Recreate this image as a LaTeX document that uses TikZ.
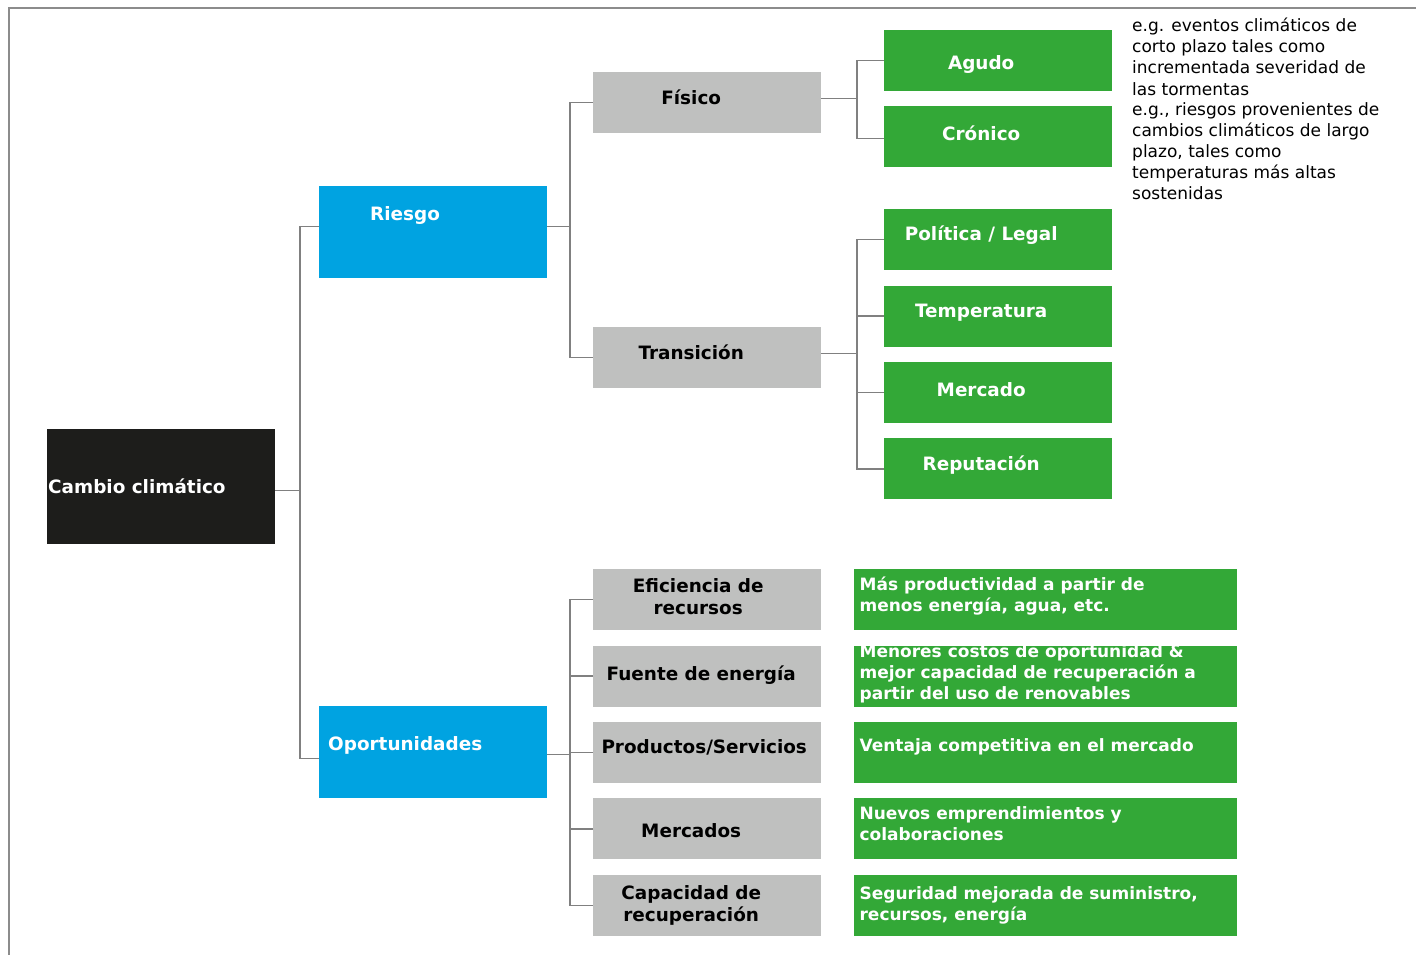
\documentclass[tikz,border=0pt]{standalone}
\usepackage{fontspec}
\setmainfont{DejaVu Sans}
\usetikzlibrary{positioning}
\definecolor{ccblue}{RGB}{0,163,225}
\definecolor{ccgreen}{RGB}{51,168,55}
\definecolor{ccgrey}{RGB}{191,192,191}
\definecolor{ccblack}{RGB}{29,29,27}
\definecolor{ccline}{RGB}{128,128,128}
\definecolor{ccframe}{RGB}{140,140,140}

\begin{document}
\begin{tikzpicture}[x=1pt, y=-1pt,
    box/.style={rectangle, anchor=north west, minimum width=228pt, minimum height=61pt, inner sep=0pt},
    rootbox/.style={box, fill=ccblack, minimum height=115pt},
    catbox/.style={box, fill=ccblue, minimum height=92pt},
    greybox/.style={box, fill=ccgrey},
    gnbox/.style={box, fill=ccgreen},
    descbox/.style={box, fill=ccgreen, minimum width=383pt},
    wlbl/.style={text=white, font=\bfseries\fontsize{18.4}{22}\selectfont, inner sep=0pt, align=center},
    blbl/.style={wlbl, text=black},
    dlbl/.style={text=white, font=\bfseries\fontsize{17}{21}\selectfont, inner sep=0pt, align=left, anchor=north west},
    note/.style={font=\fontsize{17}{21.1}\selectfont, inner sep=0pt, align=left, anchor=north west},
    link/.style={draw=ccline, line width=1.4pt}
]
\useasboundingbox (0,0) rectangle (1416,955);
\draw[ccframe, line width=1.4pt] (1416,8) -- (9,8) -- (9,955);

% root and categories
\node[rootbox] (root) at (47,429) {};
\node[catbox] (riesgo) at (319,186) {};
\node[catbox] (oport) at (319,706) {};
\node[wlbl, anchor=west] (root-t) at ([xshift=1pt]root.west) {Cambio climático};
\node[wlbl, anchor=west] (riesgo-t) at ([xshift=51pt, yshift=17pt]riesgo.west) {Riesgo};
\node[wlbl, anchor=west] (oport-t) at ([xshift=9pt, yshift=7pt]oport.west) {Oportunidades};

% risk branch
\node[greybox] (fisico) at (593,72) {};
\node[greybox] (trans) at (593,327) {};
\node[blbl] (fisico-t) at ([xshift=-16pt, yshift=5pt]fisico.center) {Físico};
\node[blbl] (trans-t) at ([xshift=-16pt, yshift=5pt]trans.center) {Transición};

\node[gnbox] (agudo) at (884,30) {};
\node[gnbox] (cronico) at (884,106) {};
\node[gnbox] (politica) at (884,209) {};
\node[gnbox, below=15pt of politica] (temp) {};
\node[gnbox, below=15pt of temp] (mercado) {};
\node[gnbox, below=15pt of mercado] (reput) {};
\node[wlbl] (agudo-t) at ([xshift=-17pt, yshift=-4pt]agudo.center) {Agudo};
\node[wlbl] (cronico-t) at ([xshift=-17pt, yshift=3pt]cronico.center) {Crónico};
\node[wlbl] (politica-t) at ([xshift=-17pt, yshift=5pt]politica.center) {Política / Legal};
\node[wlbl] (temp-t) at ([xshift=-17pt, yshift=3pt]temp.center) {Temperatura};
\node[wlbl] (mercado-t) at ([xshift=-17pt, yshift=3pt]mercado.center) {Mercado};
\node[wlbl] (reput-t) at ([xshift=-17pt, yshift=4pt]reput.center) {Reputación};

\node[note] (note-agudo) at (1132,18) {e.g. eventos climáticos de\\corto plazo tales como\\incrementada severidad de\\las tormentas};
\node[note] (note-cronico) at (1132,102) {e.g., riesgos provenientes de\\cambios climáticos de largo\\plazo, tales como\\temperaturas más altas\\sostenidas};

% opportunity branch
\node[greybox] (efic) at (593,569) {};
\node[greybox, below=15pt of efic] (fuente) {};
\node[greybox, below=15pt of fuente] (prod) {};
\node[greybox, below=15pt of prod] (merc) {};
\node[greybox, below=15pt of merc] (capac) {};
\node[blbl] (efic-t) at ([xshift=-9pt, yshift=3pt]efic.center) {Eficiencia de\\recursos};
\node[blbl] (fuente-t) at ([xshift=-6pt, yshift=1pt]fuente.center) {Fuente de energía};
\node[blbl] (prod-t) at ([xshift=-3pt, yshift=5pt]prod.center) {Productos/Servicios};
\node[blbl] (merc-t) at ([xshift=-16pt, yshift=-2pt]merc.center) {Mercados};
\node[blbl] (capac-t) at ([xshift=-16pt]capac.center) {Capacidad de\\recuperación};

\node[descbox, right=32pt of efic] (d-efic) {};
\node[descbox, right=32pt of fuente] (d-fuente) {};
\node[descbox, right=32pt of prod] (d-prod) {};
\node[descbox, right=32pt of merc] (d-merc) {};
\node[descbox, right=32pt of capac] (d-capac) {};
\node[dlbl] (d-efic-t) at ([xshift=6pt, yshift=-8pt]d-efic.north west) {Más productividad a partir de\\menos energía, agua, etc.};
\node[dlbl] (d-fuente-t) at ([xshift=6pt, yshift=1pt]d-fuente.north west) {Menores costos de oportunidad \&\\mejor capacidad de recuperación a\\partir del uso de renovables};
\node[dlbl] (d-prod-t) at ([xshift=6pt, yshift=-17pt]d-prod.north west) {Ventaja competitiva en el mercado};
\node[dlbl] (d-merc-t) at ([xshift=6pt, yshift=-8pt]d-merc.north west) {Nuevos emprendimientos y\\colaboraciones};
\node[dlbl] (d-capac-t) at ([xshift=6pt, yshift=-12pt]d-capac.north west) {Seguridad mejorada de suministro,\\recursos, energía};

% connectors
\draw[link] ([yshift=-4pt]root.east) -- ++(25,0);
\draw[link] ([yshift=6pt]riesgo.west) -- ++(-19,0) |- ([yshift=-6pt]oport.west);
\draw[link] ([yshift=6pt]riesgo.east) -- ++(22,0);
\draw[link] (fisico.west) -- ++(-23,0) |- (trans.west);
\draw[link] ([yshift=4pt]fisico.east) -- ++(36,0);
\draw[link] (agudo.west) -- ++(-27,0) |- ([yshift=-2pt]cronico.west);
\draw[link] ([yshift=4pt]trans.east) -- ++(36,0);
\draw[link] (politica.west) -- ++(-27,0) |- (reput.west);
\foreach \n in {temp, mercado}
  \draw[link] (\n.west) -- ++(-27,0);
\draw[link] ([yshift=-2pt]oport.east) -- ++(22,0);
\draw[link] (efic.west) -- ++(-23,0) |- (capac.west);
\foreach \n in {fuente, prod, merc}
  \draw[link] (\n.west) -- ++(-23,0);

\end{tikzpicture}
\end{document}
